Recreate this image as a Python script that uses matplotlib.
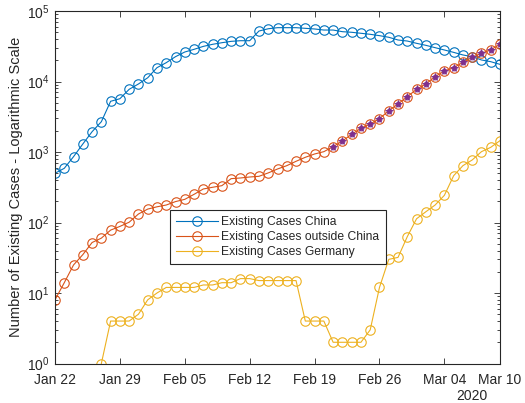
import numpy as np
import pandas as pd
import matplotlib
matplotlib.use("Agg")
import matplotlib.pyplot as plt
import matplotlib.dates as mdates
from matplotlib.ticker import LogLocator

plt.rcParams['font.family'] = ['Liberation Sans', 'DejaVu Sans']

dates = pd.date_range("2020-01-22", "2020-03-10", freq="D")

china = [499, 587, 859, 1298, 1940, 2690, 5240, 5700, 7750, 9220,
         11300, 15700, 18500, 22500, 26200, 28600, 31500, 33700, 35500, 37100,
         37900, 37900, 52000, 56000, 58000, 58000, 58000, 56800, 55600, 53700,
         53700, 50900, 49900, 48300, 46700, 44700, 42400, 38800, 37500, 34800,
         32600, 30200, 28000, 25900, 23800, 22500, 20200, 19100, 17500]

outside = [8, 14, 25, 35, 52, 60, 78, 88, 101, 132,
           155, 167, 177, 198, 213, 251, 299, 316, 333, 419,
           428, 442, 452, 505, 574, 640, 738, 841, 937, 1011,
           1191, 1432, 1782, 2168, 2495, 2967, 3852, 4797, 6090, 7750,
           9220, 11700, 14100, 15700, 18700, 22000, 25100, 28200, 33700]

germany = [np.nan, np.nan, np.nan, np.nan, np.nan, 1, 4, 4, 4, 5,
           8, 10, 12, 12, 12, 12, 13, 13, 14, 14,
           16, 16, 15, 15, 15, 15, 15, 4, 4, 4,
           2, 2, 2, 2, 3, 12, 30, 32, 63, 113,
           142, 177, 243, 461, 640, 771, 1011, 1165, 1449]

highlight_start = "2020-02-21"

xticks = list(pd.date_range("2020-01-22", "2020-03-04", freq="7D")) + [pd.Timestamp("2020-03-10")]

c_blue = "#0072BD"
c_red = "#D95319"
c_yel = "#EDB120"
c_pur = "#7E2F8E"
axc = "#262626"

fig = plt.figure(figsize=(5.25, 4.03), dpi=100)
ax = fig.add_axes([55/525, 1-363.5/403, 445/525, 352.5/403])

ms = 6.8
lw = 0.8
ax.plot(dates, china, '-o', color=c_blue, mfc='none', ms=ms, lw=lw, mew=0.8,
        label='Existing Cases China')
ax.plot(dates, outside, '-o', color=c_red, mfc='none', ms=ms, lw=lw, mew=0.8,
        label='Existing Cases outside China')
ax.plot(dates, germany, '-o', color=c_yel, mfc='none', ms=ms, lw=lw, mew=0.8,
        label='Existing Cases Germany')

s_out = pd.Series(outside, index=dates)
hl = s_out[s_out.index >= highlight_start]
ax.plot(hl.index, hl.values, linestyle='none', marker='o', color=c_pur, ms=4.2,
        mew=0, alpha=0.85)
ax.plot(hl.index, hl.values, linestyle='none', marker='*', color=c_pur, ms=5.5,
        mew=0.6)

ax.set_yscale('log')
ax.set_ylim(1, 1e5)
ax.set_xlim(dates[0], dates[-1])
ax.set_xticks(xticks)
ax.xaxis.set_major_formatter(mdates.DateFormatter('%b %d'))
ax.yaxis.set_major_locator(LogLocator(base=10, numticks=10))
ax.yaxis.set_minor_locator(LogLocator(base=10, subs=np.arange(2, 10), numticks=20))

for s in ax.spines.values():
    s.set_color(axc)
    s.set_linewidth(0.8)
ax.tick_params(which='both', direction='in', top=True, right=True,
               colors=axc, labelcolor=axc, labelsize=10, width=0.6)
ax.tick_params(which='major', length=4.5)
ax.tick_params(which='minor', length=2.5)
ax.tick_params(axis='x', pad=7)
ax.tick_params(axis='y', pad=4)

ax.set_ylabel('Number of Existing Cases - Logarithmic Scale', fontsize=10.5,
              color=axc, labelpad=3)
fig.text(472/525, 1-396/403, '2020', ha='center', va='center', fontsize=10,
         color=axc)

leg = ax.legend(loc='upper left', bbox_to_anchor=((170-55)/445, (363.5-210)/352.5),
                fontsize=8.7, frameon=True, fancybox=False, framealpha=1,
                borderpad=0.5, labelspacing=0.25, handlelength=3.5,
                handletextpad=0.25, borderaxespad=0)
leg.get_frame().set_edgecolor(axc)
leg.get_frame().set_linewidth(0.8)
for t in leg.get_texts():
    t.set_color(axc)

fig.savefig("out.png", dpi=100)
